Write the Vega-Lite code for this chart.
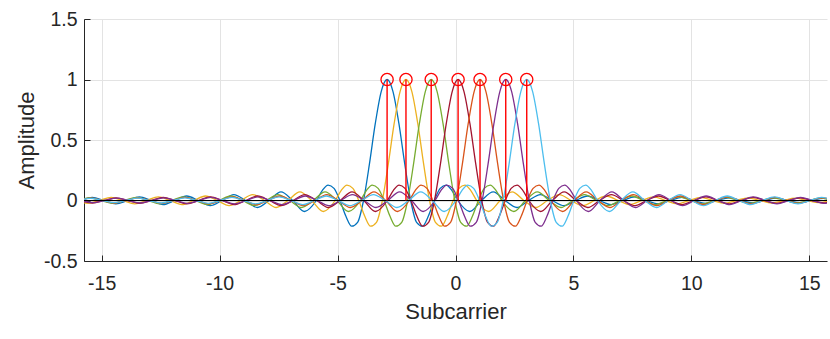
{
  "$schema": "https://vega.github.io/schema/vega-lite/v6.json",
  "width": 743,
  "height": 242,
  "autosize": {"type": "none"},
  "padding": {"left": 84, "top": 19, "right": 3, "bottom": 78},
  "background": "white",
  "config": {
    "view": {"stroke": null},
    "font": "Liberation Sans",
    "axis": {
      "labelFont": "Liberation Sans",
      "titleFont": "Liberation Sans",
      "labelFontSize": 19.5,
      "titleFontSize": 22,
      "titleFontWeight": "normal",
      "labelColor": "#262626",
      "titleColor": "#262626",
      "domainColor": "#262626",
      "tickColor": "#262626",
      "domainWidth": 1,
      "tickWidth": 1,
      "tickSize": -6,
      "grid": true,
      "gridColor": "#e3e3e3",
      "gridWidth": 1
    }
  },
  "datasets": {
    "curves": [
      {"k":1,"x":-15.9,"y":0},{"k":1,"x":-15.4,"y":0.0255},{"k":1,"x":-14.9,"y":0},{"k":1,"x":-14.4,"y":-0.0277},{"k":1,"x":-13.9,"y":0},{"k":1,"x":-13.4,"y":0.0303},{"k":1,"x":-12.9,"y":0},{"k":1,"x":-12.4,"y":-0.0335},{"k":1,"x":-11.9,"y":0},{"k":1,"x":-11.4,"y":0.0374},{"k":1,"x":-10.9,"y":0},{"k":1,"x":-10.4,"y":-0.0424},{"k":1,"x":-9.9,"y":0},{"k":1,"x":-9.4,"y":0.049},{"k":1,"x":-8.9,"y":0},{"k":1,"x":-8.4,"y":-0.0579},{"k":1,"x":-7.9,"y":0},{"k":1,"x":-7.4,"y":0.0707},{"k":1,"x":-6.9,"y":0},{"k":1,"x":-6.4,"y":-0.0909},{"k":1,"x":-5.9,"y":0},{"k":1,"x":-5.65,"y":0.0818},{"k":1,"x":-5.4,"y":0.1273},{"k":1,"x":-5.15,"y":0.1},{"k":1,"x":-4.9,"y":0},{"k":1,"x":-4.65,"y":-0.1286},{"k":1,"x":-4.4,"y":-0.2122},{"k":1,"x":-4.15,"y":-0.1801},{"k":1,"x":-3.9,"y":0},{"k":1,"x":-3.65,"y":0.3001},{"k":1,"x":-3.4,"y":0.6366},{"k":1,"x":-3.15,"y":0.9003},{"k":1,"x":-2.9,"y":1},{"k":1,"x":-2.65,"y":0.9003},{"k":1,"x":-2.4,"y":0.6366},{"k":1,"x":-2.15,"y":0.3001},{"k":1,"x":-1.9,"y":0},{"k":1,"x":-1.65,"y":-0.1801},{"k":1,"x":-1.4,"y":-0.2122},{"k":1,"x":-1.15,"y":-0.1286},{"k":1,"x":-0.9,"y":0},{"k":1,"x":-0.65,"y":0.1},{"k":1,"x":-0.4,"y":0.1273},{"k":1,"x":-0.15,"y":0.0818},{"k":1,"x":0.1,"y":0},{"k":1,"x":0.6,"y":-0.0909},{"k":1,"x":1.1,"y":0},{"k":1,"x":1.6,"y":0.0707},{"k":1,"x":2.1,"y":0},{"k":1,"x":2.6,"y":-0.0579},{"k":1,"x":3.1,"y":0},{"k":1,"x":3.6,"y":0.049},{"k":1,"x":4.1,"y":0},{"k":1,"x":4.6,"y":-0.0424},{"k":1,"x":5.1,"y":0},{"k":1,"x":5.6,"y":0.0374},{"k":1,"x":6.1,"y":0},{"k":1,"x":6.6,"y":-0.0335},{"k":1,"x":7.1,"y":0},{"k":1,"x":7.6,"y":0.0303},{"k":1,"x":8.1,"y":0},{"k":1,"x":8.6,"y":-0.0277},{"k":1,"x":9.1,"y":0},{"k":1,"x":9.6,"y":0.0255},{"k":1,"x":10.1,"y":0},{"k":1,"x":10.6,"y":-0.0236},{"k":1,"x":11.1,"y":0},{"k":1,"x":11.6,"y":0.022},{"k":1,"x":12.1,"y":0},{"k":1,"x":12.6,"y":-0.0205},{"k":1,"x":13.1,"y":0},{"k":1,"x":13.6,"y":0.0193},{"k":1,"x":14.1,"y":0},{"k":1,"x":14.6,"y":-0.0182},{"k":1,"x":15.1,"y":0},{"k":1,"x":15.6,"y":0.0172},{"k":1,"x":16.1,"y":0},

      {"k":3,"x":-16.1,"y":0},{"k":3,"x":-15.6,"y":-0.0236},{"k":3,"x":-15.1,"y":0},{"k":3,"x":-14.6,"y":0.0255},{"k":3,"x":-14.1,"y":0},{"k":3,"x":-13.6,"y":-0.0277},{"k":3,"x":-13.1,"y":0},{"k":3,"x":-12.6,"y":0.0303},{"k":3,"x":-12.1,"y":0},{"k":3,"x":-11.6,"y":-0.0335},{"k":3,"x":-11.1,"y":0},{"k":3,"x":-10.6,"y":0.0374},{"k":3,"x":-10.1,"y":0},{"k":3,"x":-9.6,"y":-0.0424},{"k":3,"x":-9.1,"y":0},{"k":3,"x":-8.6,"y":0.049},{"k":3,"x":-8.1,"y":0},{"k":3,"x":-7.6,"y":-0.0579},{"k":3,"x":-7.1,"y":0},{"k":3,"x":-6.6,"y":0.0707},{"k":3,"x":-6.1,"y":0},{"k":3,"x":-5.6,"y":-0.0909},{"k":3,"x":-5.1,"y":0},{"k":3,"x":-4.85,"y":0.0818},{"k":3,"x":-4.6,"y":0.1273},{"k":3,"x":-4.35,"y":0.1},{"k":3,"x":-4.1,"y":0},{"k":3,"x":-3.85,"y":-0.1286},{"k":3,"x":-3.6,"y":-0.2122},{"k":3,"x":-3.35,"y":-0.1801},{"k":3,"x":-3.1,"y":0},{"k":3,"x":-2.85,"y":0.3001},{"k":3,"x":-2.6,"y":0.6366},{"k":3,"x":-2.35,"y":0.9003},{"k":3,"x":-2.1,"y":1},{"k":3,"x":-1.85,"y":0.9003},{"k":3,"x":-1.6,"y":0.6366},{"k":3,"x":-1.35,"y":0.3001},{"k":3,"x":-1.1,"y":0},{"k":3,"x":-0.85,"y":-0.1801},{"k":3,"x":-0.6,"y":-0.2122},{"k":3,"x":-0.35,"y":-0.1286},{"k":3,"x":-0.1,"y":0},{"k":3,"x":0.15,"y":0.1},{"k":3,"x":0.4,"y":0.1273},{"k":3,"x":0.65,"y":0.0818},{"k":3,"x":0.9,"y":0},{"k":3,"x":1.4,"y":-0.0909},{"k":3,"x":1.9,"y":0},{"k":3,"x":2.4,"y":0.0707},{"k":3,"x":2.9,"y":0},{"k":3,"x":3.4,"y":-0.0579},{"k":3,"x":3.9,"y":0},{"k":3,"x":4.4,"y":0.049},{"k":3,"x":4.9,"y":0},{"k":3,"x":5.4,"y":-0.0424},{"k":3,"x":5.9,"y":0},{"k":3,"x":6.4,"y":0.0374},{"k":3,"x":6.9,"y":0},{"k":3,"x":7.4,"y":-0.0335},{"k":3,"x":7.9,"y":0},{"k":3,"x":8.4,"y":0.0303},{"k":3,"x":8.9,"y":0},{"k":3,"x":9.4,"y":-0.0277},{"k":3,"x":9.9,"y":0},{"k":3,"x":10.4,"y":0.0255},{"k":3,"x":10.9,"y":0},{"k":3,"x":11.4,"y":-0.0236},{"k":3,"x":11.9,"y":0},{"k":3,"x":12.4,"y":0.022},{"k":3,"x":12.9,"y":0},{"k":3,"x":13.4,"y":-0.0205},{"k":3,"x":13.9,"y":0},{"k":3,"x":14.4,"y":0.0193},{"k":3,"x":14.9,"y":0},{"k":3,"x":15.4,"y":-0.0182},{"k":3,"x":15.9,"y":0},

      {"k":5,"x":-16.03,"y":0},{"k":5,"x":-15.53,"y":0.022},{"k":5,"x":-15.03,"y":0},{"k":5,"x":-14.53,"y":-0.0236},{"k":5,"x":-14.03,"y":0},{"k":5,"x":-13.53,"y":0.0255},{"k":5,"x":-13.03,"y":0},{"k":5,"x":-12.53,"y":-0.0277},{"k":5,"x":-12.03,"y":0},{"k":5,"x":-11.53,"y":0.0303},{"k":5,"x":-11.03,"y":0},{"k":5,"x":-10.53,"y":-0.0335},{"k":5,"x":-10.03,"y":0},{"k":5,"x":-9.53,"y":0.0374},{"k":5,"x":-9.03,"y":0},{"k":5,"x":-8.53,"y":-0.0424},{"k":5,"x":-8.03,"y":0},{"k":5,"x":-7.53,"y":0.049},{"k":5,"x":-7.03,"y":0},{"k":5,"x":-6.53,"y":-0.0579},{"k":5,"x":-6.03,"y":0},{"k":5,"x":-5.53,"y":0.0707},{"k":5,"x":-5.03,"y":0},{"k":5,"x":-4.53,"y":-0.0909},{"k":5,"x":-4.03,"y":0},{"k":5,"x":-3.78,"y":0.0818},{"k":5,"x":-3.53,"y":0.1273},{"k":5,"x":-3.28,"y":0.1},{"k":5,"x":-3.03,"y":0},{"k":5,"x":-2.78,"y":-0.1286},{"k":5,"x":-2.53,"y":-0.2122},{"k":5,"x":-2.28,"y":-0.1801},{"k":5,"x":-2.03,"y":0},{"k":5,"x":-1.78,"y":0.3001},{"k":5,"x":-1.53,"y":0.6366},{"k":5,"x":-1.28,"y":0.9003},{"k":5,"x":-1.03,"y":1},{"k":5,"x":-0.78,"y":0.9003},{"k":5,"x":-0.53,"y":0.6366},{"k":5,"x":-0.28,"y":0.3001},{"k":5,"x":-0.03,"y":0},{"k":5,"x":0.22,"y":-0.1801},{"k":5,"x":0.47,"y":-0.2122},{"k":5,"x":0.72,"y":-0.1286},{"k":5,"x":0.97,"y":0},{"k":5,"x":1.22,"y":0.1},{"k":5,"x":1.47,"y":0.1273},{"k":5,"x":1.72,"y":0.0818},{"k":5,"x":1.97,"y":0},{"k":5,"x":2.47,"y":-0.0909},{"k":5,"x":2.97,"y":0},{"k":5,"x":3.47,"y":0.0707},{"k":5,"x":3.97,"y":0},{"k":5,"x":4.47,"y":-0.0579},{"k":5,"x":4.97,"y":0},{"k":5,"x":5.47,"y":0.049},{"k":5,"x":5.97,"y":0},{"k":5,"x":6.47,"y":-0.0424},{"k":5,"x":6.97,"y":0},{"k":5,"x":7.47,"y":0.0374},{"k":5,"x":7.97,"y":0},{"k":5,"x":8.47,"y":-0.0335},{"k":5,"x":8.97,"y":0},{"k":5,"x":9.47,"y":0.0303},{"k":5,"x":9.97,"y":0},{"k":5,"x":10.47,"y":-0.0277},{"k":5,"x":10.97,"y":0},{"k":5,"x":11.47,"y":0.0255},{"k":5,"x":11.97,"y":0},{"k":5,"x":12.47,"y":-0.0236},{"k":5,"x":12.97,"y":0},{"k":5,"x":13.47,"y":0.022},{"k":5,"x":13.97,"y":0},{"k":5,"x":14.47,"y":-0.0205},{"k":5,"x":14.97,"y":0},{"k":5,"x":15.47,"y":0.0193},{"k":5,"x":15.97,"y":0},

      {"k":7,"x":-15.89,"y":0},{"k":7,"x":-15.39,"y":-0.0205},{"k":7,"x":-14.89,"y":0},{"k":7,"x":-14.39,"y":0.022},{"k":7,"x":-13.89,"y":0},{"k":7,"x":-13.39,"y":-0.0236},{"k":7,"x":-12.89,"y":0},{"k":7,"x":-12.39,"y":0.0255},{"k":7,"x":-11.89,"y":0},{"k":7,"x":-11.39,"y":-0.0277},{"k":7,"x":-10.89,"y":0},{"k":7,"x":-10.39,"y":0.0303},{"k":7,"x":-9.89,"y":0},{"k":7,"x":-9.39,"y":-0.0335},{"k":7,"x":-8.89,"y":0},{"k":7,"x":-8.39,"y":0.0374},{"k":7,"x":-7.89,"y":0},{"k":7,"x":-7.39,"y":-0.0424},{"k":7,"x":-6.89,"y":0},{"k":7,"x":-6.39,"y":0.049},{"k":7,"x":-5.89,"y":0},{"k":7,"x":-5.39,"y":-0.0579},{"k":7,"x":-4.89,"y":0},{"k":7,"x":-4.39,"y":0.0707},{"k":7,"x":-3.89,"y":0},{"k":7,"x":-3.39,"y":-0.0909},{"k":7,"x":-2.89,"y":0},{"k":7,"x":-2.64,"y":0.0818},{"k":7,"x":-2.39,"y":0.1273},{"k":7,"x":-2.14,"y":0.1},{"k":7,"x":-1.89,"y":0},{"k":7,"x":-1.64,"y":-0.1286},{"k":7,"x":-1.39,"y":-0.2122},{"k":7,"x":-1.14,"y":-0.1801},{"k":7,"x":-0.89,"y":0},{"k":7,"x":-0.64,"y":0.3001},{"k":7,"x":-0.39,"y":0.6366},{"k":7,"x":-0.14,"y":0.9003},{"k":7,"x":0.11,"y":1},{"k":7,"x":0.36,"y":0.9003},{"k":7,"x":0.61,"y":0.6366},{"k":7,"x":0.86,"y":0.3001},{"k":7,"x":1.11,"y":0},{"k":7,"x":1.36,"y":-0.1801},{"k":7,"x":1.61,"y":-0.2122},{"k":7,"x":1.86,"y":-0.1286},{"k":7,"x":2.11,"y":0},{"k":7,"x":2.36,"y":0.1},{"k":7,"x":2.61,"y":0.1273},{"k":7,"x":2.86,"y":0.0818},{"k":7,"x":3.11,"y":0},{"k":7,"x":3.61,"y":-0.0909},{"k":7,"x":4.11,"y":0},{"k":7,"x":4.61,"y":0.0707},{"k":7,"x":5.11,"y":0},{"k":7,"x":5.61,"y":-0.0579},{"k":7,"x":6.11,"y":0},{"k":7,"x":6.61,"y":0.049},{"k":7,"x":7.11,"y":0},{"k":7,"x":7.61,"y":-0.0424},{"k":7,"x":8.11,"y":0},{"k":7,"x":8.61,"y":0.0374},{"k":7,"x":9.11,"y":0},{"k":7,"x":9.61,"y":-0.0335},{"k":7,"x":10.11,"y":0},{"k":7,"x":10.61,"y":0.0303},{"k":7,"x":11.11,"y":0},{"k":7,"x":11.61,"y":-0.0277},{"k":7,"x":12.11,"y":0},{"k":7,"x":12.61,"y":0.0255},{"k":7,"x":13.11,"y":0},{"k":7,"x":13.61,"y":-0.0236},{"k":7,"x":14.11,"y":0},{"k":7,"x":14.61,"y":0.022},{"k":7,"x":15.11,"y":0},{"k":7,"x":15.61,"y":-0.0205},{"k":7,"x":16.11,"y":0},

      {"k":2,"x":-15.96,"y":0},{"k":2,"x":-15.46,"y":0.0193},{"k":2,"x":-14.96,"y":0},{"k":2,"x":-14.46,"y":-0.0205},{"k":2,"x":-13.96,"y":0},{"k":2,"x":-13.46,"y":0.022},{"k":2,"x":-12.96,"y":0},{"k":2,"x":-12.46,"y":-0.0236},{"k":2,"x":-11.96,"y":0},{"k":2,"x":-11.46,"y":0.0255},{"k":2,"x":-10.96,"y":0},{"k":2,"x":-10.46,"y":-0.0277},{"k":2,"x":-9.96,"y":0},{"k":2,"x":-9.46,"y":0.0303},{"k":2,"x":-8.96,"y":0},{"k":2,"x":-8.46,"y":-0.0335},{"k":2,"x":-7.96,"y":0},{"k":2,"x":-7.46,"y":0.0374},{"k":2,"x":-6.96,"y":0},{"k":2,"x":-6.46,"y":-0.0424},{"k":2,"x":-5.96,"y":0},{"k":2,"x":-5.46,"y":0.049},{"k":2,"x":-4.96,"y":0},{"k":2,"x":-4.46,"y":-0.0579},{"k":2,"x":-3.96,"y":0},{"k":2,"x":-3.46,"y":0.0707},{"k":2,"x":-2.96,"y":0},{"k":2,"x":-2.46,"y":-0.0909},{"k":2,"x":-1.96,"y":0},{"k":2,"x":-1.71,"y":0.0818},{"k":2,"x":-1.46,"y":0.1273},{"k":2,"x":-1.21,"y":0.1},{"k":2,"x":-0.96,"y":0},{"k":2,"x":-0.71,"y":-0.1286},{"k":2,"x":-0.46,"y":-0.2122},{"k":2,"x":-0.21,"y":-0.1801},{"k":2,"x":0.04,"y":0},{"k":2,"x":0.29,"y":0.3001},{"k":2,"x":0.54,"y":0.6366},{"k":2,"x":0.79,"y":0.9003},{"k":2,"x":1.04,"y":1},{"k":2,"x":1.29,"y":0.9003},{"k":2,"x":1.54,"y":0.6366},{"k":2,"x":1.79,"y":0.3001},{"k":2,"x":2.04,"y":0},{"k":2,"x":2.29,"y":-0.1801},{"k":2,"x":2.54,"y":-0.2122},{"k":2,"x":2.79,"y":-0.1286},{"k":2,"x":3.04,"y":0},{"k":2,"x":3.29,"y":0.1},{"k":2,"x":3.54,"y":0.1273},{"k":2,"x":3.79,"y":0.0818},{"k":2,"x":4.04,"y":0},{"k":2,"x":4.54,"y":-0.0909},{"k":2,"x":5.04,"y":0},{"k":2,"x":5.54,"y":0.0707},{"k":2,"x":6.04,"y":0},{"k":2,"x":6.54,"y":-0.0579},{"k":2,"x":7.04,"y":0},{"k":2,"x":7.54,"y":0.049},{"k":2,"x":8.04,"y":0},{"k":2,"x":8.54,"y":-0.0424},{"k":2,"x":9.04,"y":0},{"k":2,"x":9.54,"y":0.0374},{"k":2,"x":10.04,"y":0},{"k":2,"x":10.54,"y":-0.0335},{"k":2,"x":11.04,"y":0},{"k":2,"x":11.54,"y":0.0303},{"k":2,"x":12.04,"y":0},{"k":2,"x":12.54,"y":-0.0277},{"k":2,"x":13.04,"y":0},{"k":2,"x":13.54,"y":0.0255},{"k":2,"x":14.04,"y":0},{"k":2,"x":14.54,"y":-0.0236},{"k":2,"x":15.04,"y":0},{"k":2,"x":15.54,"y":0.022},{"k":2,"x":16.04,"y":0},

      {"k":4,"x":-15.87,"y":0},{"k":4,"x":-15.37,"y":-0.0182},{"k":4,"x":-14.87,"y":0},{"k":4,"x":-14.37,"y":0.0193},{"k":4,"x":-13.87,"y":0},{"k":4,"x":-13.37,"y":-0.0205},{"k":4,"x":-12.87,"y":0},{"k":4,"x":-12.37,"y":0.022},{"k":4,"x":-11.87,"y":0},{"k":4,"x":-11.37,"y":-0.0236},{"k":4,"x":-10.87,"y":0},{"k":4,"x":-10.37,"y":0.0255},{"k":4,"x":-9.87,"y":0},{"k":4,"x":-9.37,"y":-0.0277},{"k":4,"x":-8.87,"y":0},{"k":4,"x":-8.37,"y":0.0303},{"k":4,"x":-7.87,"y":0},{"k":4,"x":-7.37,"y":-0.0335},{"k":4,"x":-6.87,"y":0},{"k":4,"x":-6.37,"y":0.0374},{"k":4,"x":-5.87,"y":0},{"k":4,"x":-5.37,"y":-0.0424},{"k":4,"x":-4.87,"y":0},{"k":4,"x":-4.37,"y":0.049},{"k":4,"x":-3.87,"y":0},{"k":4,"x":-3.37,"y":-0.0579},{"k":4,"x":-2.87,"y":0},{"k":4,"x":-2.37,"y":0.0707},{"k":4,"x":-1.87,"y":0},{"k":4,"x":-1.37,"y":-0.0909},{"k":4,"x":-0.87,"y":0},{"k":4,"x":-0.62,"y":0.0818},{"k":4,"x":-0.37,"y":0.1273},{"k":4,"x":-0.12,"y":0.1},{"k":4,"x":0.13,"y":0},{"k":4,"x":0.38,"y":-0.1286},{"k":4,"x":0.63,"y":-0.2122},{"k":4,"x":0.88,"y":-0.1801},{"k":4,"x":1.13,"y":0},{"k":4,"x":1.38,"y":0.3001},{"k":4,"x":1.63,"y":0.6366},{"k":4,"x":1.88,"y":0.9003},{"k":4,"x":2.13,"y":1},{"k":4,"x":2.38,"y":0.9003},{"k":4,"x":2.63,"y":0.6366},{"k":4,"x":2.88,"y":0.3001},{"k":4,"x":3.13,"y":0},{"k":4,"x":3.38,"y":-0.1801},{"k":4,"x":3.63,"y":-0.2122},{"k":4,"x":3.88,"y":-0.1286},{"k":4,"x":4.13,"y":0},{"k":4,"x":4.38,"y":0.1},{"k":4,"x":4.63,"y":0.1273},{"k":4,"x":4.88,"y":0.0818},{"k":4,"x":5.13,"y":0},{"k":4,"x":5.63,"y":-0.0909},{"k":4,"x":6.13,"y":0},{"k":4,"x":6.63,"y":0.0707},{"k":4,"x":7.13,"y":0},{"k":4,"x":7.63,"y":-0.0579},{"k":4,"x":8.13,"y":0},{"k":4,"x":8.63,"y":0.049},{"k":4,"x":9.13,"y":0},{"k":4,"x":9.63,"y":-0.0424},{"k":4,"x":10.13,"y":0},{"k":4,"x":10.63,"y":0.0374},{"k":4,"x":11.13,"y":0},{"k":4,"x":11.63,"y":-0.0335},{"k":4,"x":12.13,"y":0},{"k":4,"x":12.63,"y":0.0303},{"k":4,"x":13.13,"y":0},{"k":4,"x":13.63,"y":-0.0277},{"k":4,"x":14.13,"y":0},{"k":4,"x":14.63,"y":0.0255},{"k":4,"x":15.13,"y":0},{"k":4,"x":15.63,"y":-0.0236},{"k":4,"x":16.13,"y":0},

      {"k":6,"x":-15.98,"y":0},{"k":6,"x":-15.48,"y":0.0172},{"k":6,"x":-14.98,"y":0},{"k":6,"x":-14.48,"y":-0.0182},{"k":6,"x":-13.98,"y":0},{"k":6,"x":-13.48,"y":0.0193},{"k":6,"x":-12.98,"y":0},{"k":6,"x":-12.48,"y":-0.0205},{"k":6,"x":-11.98,"y":0},{"k":6,"x":-11.48,"y":0.022},{"k":6,"x":-10.98,"y":0},{"k":6,"x":-10.48,"y":-0.0236},{"k":6,"x":-9.98,"y":0},{"k":6,"x":-9.48,"y":0.0255},{"k":6,"x":-8.98,"y":0},{"k":6,"x":-8.48,"y":-0.0277},{"k":6,"x":-7.98,"y":0},{"k":6,"x":-7.48,"y":0.0303},{"k":6,"x":-6.98,"y":0},{"k":6,"x":-6.48,"y":-0.0335},{"k":6,"x":-5.98,"y":0},{"k":6,"x":-5.48,"y":0.0374},{"k":6,"x":-4.98,"y":0},{"k":6,"x":-4.48,"y":-0.0424},{"k":6,"x":-3.98,"y":0},{"k":6,"x":-3.48,"y":0.049},{"k":6,"x":-2.98,"y":0},{"k":6,"x":-2.48,"y":-0.0579},{"k":6,"x":-1.98,"y":0},{"k":6,"x":-1.48,"y":0.0707},{"k":6,"x":-0.98,"y":0},{"k":6,"x":-0.48,"y":-0.0909},{"k":6,"x":0.02,"y":0},{"k":6,"x":0.27,"y":0.0818},{"k":6,"x":0.52,"y":0.1273},{"k":6,"x":0.77,"y":0.1},{"k":6,"x":1.02,"y":0},{"k":6,"x":1.27,"y":-0.1286},{"k":6,"x":1.52,"y":-0.2122},{"k":6,"x":1.77,"y":-0.1801},{"k":6,"x":2.02,"y":0},{"k":6,"x":2.27,"y":0.3001},{"k":6,"x":2.52,"y":0.6366},{"k":6,"x":2.77,"y":0.9003},{"k":6,"x":3.02,"y":1},{"k":6,"x":3.27,"y":0.9003},{"k":6,"x":3.52,"y":0.6366},{"k":6,"x":3.77,"y":0.3001},{"k":6,"x":4.02,"y":0},{"k":6,"x":4.27,"y":-0.1801},{"k":6,"x":4.52,"y":-0.2122},{"k":6,"x":4.77,"y":-0.1286},{"k":6,"x":5.02,"y":0},{"k":6,"x":5.27,"y":0.1},{"k":6,"x":5.52,"y":0.1273},{"k":6,"x":5.77,"y":0.0818},{"k":6,"x":6.02,"y":0},{"k":6,"x":6.52,"y":-0.0909},{"k":6,"x":7.02,"y":0},{"k":6,"x":7.52,"y":0.0707},{"k":6,"x":8.02,"y":0},{"k":6,"x":8.52,"y":-0.0579},{"k":6,"x":9.02,"y":0},{"k":6,"x":9.52,"y":0.049},{"k":6,"x":10.02,"y":0},{"k":6,"x":10.52,"y":-0.0424},{"k":6,"x":11.02,"y":0},{"k":6,"x":11.52,"y":0.0374},{"k":6,"x":12.02,"y":0},{"k":6,"x":12.52,"y":-0.0335},{"k":6,"x":13.02,"y":0},{"k":6,"x":13.52,"y":0.0303},{"k":6,"x":14.02,"y":0},{"k":6,"x":14.52,"y":-0.0277},{"k":6,"x":15.02,"y":0},{"k":6,"x":15.52,"y":0.0255},{"k":6,"x":16.02,"y":0}
    ],
    "stems": [
      {"c":-2.9,"z":0,"a":1},{"c":-2.1,"z":0,"a":1},{"c":-1.03,"z":0,"a":1},{"c":0.11,"z":0,"a":1},{"c":1.04,"z":0,"a":1},{"c":2.13,"z":0,"a":1},{"c":3.02,"z":0,"a":1}
    ],
    "base": [{"b":0}]
  },
  "layer": [
    {
      "data": {"name": "curves"},
      "mark": {"type": "line", "interpolate": "monotone", "clip": true, "strokeWidth": 1.3},
      "encoding": {
        "x": {
          "field": "x", "type": "quantitative",
          "scale": {"domain": [-15.75, 15.75], "nice": false, "zero": false},
          "axis": {
            "title": "Subcarrier",
            "values": [-15, -10, -5, 0, 5, 10, 15],
            "labelExpr": "'' + datum.value",
            "labelPadding": 19.5,
            "titleX": 371.5,
            "titleY": 57.5,
            "titleBaseline": "alphabetic"
          }
        },
        "y": {
          "field": "y", "type": "quantitative",
          "scale": {"domain": [-0.5, 1.5], "nice": false, "zero": false},
          "axis": {
            "title": "Amplitude",
            "values": [-0.5, 0, 0.5, 1, 1.5],
            "labelExpr": "'' + datum.value",
            "labelPadding": 13,
            "titleX": -51,
            "titleY": 121,
            "titleBaseline": "alphabetic"
          }
        },
        "color": {
          "field": "k", "type": "nominal",
          "scale": {"domain": [1, 2, 3, 4, 5, 6, 7], "range": ["#0072BD", "#D95319", "#EDB120", "#7E2F8E", "#77AC30", "#4DBEEE", "#A2142F"]},
          "legend": null
        }
      }
    },
    {
      "data": {"name": "base"},
      "mark": {"type": "rule", "color": "#000000", "strokeWidth": 1.2},
      "encoding": {
        "y": {"field": "b", "type": "quantitative"}
      }
    },
    {
      "data": {"name": "stems"},
      "mark": {"type": "rule", "color": "#FF0000", "strokeWidth": 1.4},
      "encoding": {
        "x": {"field": "c", "type": "quantitative"},
        "y": {"field": "z", "type": "quantitative"},
        "y2": {"field": "a"}
      }
    },
    {
      "data": {"name": "stems"},
      "mark": {"type": "point", "shape": "circle", "filled": false, "color": "#FF0000", "size": 150, "strokeWidth": 1.3, "opacity": 1},
      "encoding": {
        "x": {"field": "c", "type": "quantitative"},
        "y": {"field": "a", "type": "quantitative"}
      }
    }
  ]
}
